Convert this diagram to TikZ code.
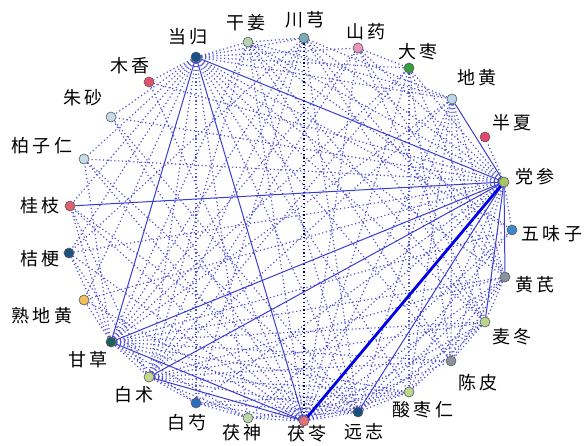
\documentclass[tikz,border=0pt]{standalone}
\usepackage{fontspec}
\newfontfamily\cjk[LetterSpace=20]{Noto Sans CJK SC}
\usetikzlibrary{backgrounds}
\definecolor{linkblue}{RGB}{60,60,210}
\definecolor{dotblue}{RGB}{80,80,215}
\definecolor{cdg}{RGB}{20,80,140}
\definecolor{cgj}{RGB}{185,210,175}
\definecolor{ccx}{RGB}{125,170,185}
\definecolor{csy}{RGB}{235,150,190}
\definecolor{cdz}{RGB}{50,160,60}
\definecolor{cdh}{RGB}{185,215,232}
\definecolor{cbx}{RGB}{230,70,110}
\definecolor{cds}{RGB}{165,200,100}
\definecolor{cwwz}{RGB}{60,135,200}
\definecolor{chq}{RGB}{135,145,160}
\definecolor{cmd}{RGB}{185,215,140}
\definecolor{ccp}{RGB}{140,148,160}
\definecolor{cszr}{RGB}{185,215,145}
\definecolor{cyz}{RGB}{25,80,125}
\definecolor{cfl}{RGB}{230,110,120}
\definecolor{cfs}{RGB}{185,215,170}
\definecolor{cbs}{RGB}{40,110,190}
\definecolor{cbz}{RGB}{195,215,145}
\definecolor{cgc}{RGB}{30,95,90}
\definecolor{csdh}{RGB}{240,190,95}
\definecolor{cjg}{RGB}{30,80,130}
\definecolor{cgz}{RGB}{225,95,110}
\definecolor{cbzr}{RGB}{195,220,232}
\definecolor{czs}{RGB}{195,220,232}
\definecolor{cmx}{RGB}{225,80,110}
\tikzset{
  herb/.style={circle,draw=black!65,line width=.6pt,minimum size=10pt,inner sep=0pt},
  herbname/.style={font=\cjk\fontsize{18}{18}\selectfont,inner sep=0pt},
  tie/.style={draw=linkblue,line width=1pt},
  strongtie/.style={draw=blue!90!black,line width=2.8pt},
  weak/.style={draw=dotblue,line width=1.2pt,dash pattern=on 1.2pt off 2.6pt},
  darkweak/.style={draw=blue!40!black,line width=1.2pt,dash pattern=on 1.2pt off 2.6pt},
}
\begin{document}
\begin{tikzpicture}[x=1pt,y=-1pt]
\useasboundingbox (0,0) rectangle (587,445);
% herbs round the circle
\node[herb,fill=cdg] (dg) at (196,57) {};   \node[herbname] (dgt) at (188,37) {当归};
\node[herb,fill=cgj] (gj) at (248,42) {};   \node[herbname] (gjt) at (246,23) {干姜};
\node[herb,fill=ccx] (cx) at (304,38) {};   \node[herbname] (cxt) at (305,20) {川芎};
\node[herb,fill=csy] (sy) at (358,48) {};   \node[herbname] (syt) at (366,32) {山药};
\node[herb,fill=cdz] (dz) at (409,68) {};   \node[herbname] (dzt) at (418,52) {大枣};
\node[herb,fill=cdh] (dh) at (452,99) {};   \node[herbname] (dht) at (477,78) {地黄};
\node[herb,fill=cbx] (bx) at (485,137) {};  \node[herbname] (bxt) at (512,123) {半夏};
\node[herb,fill=cds] (ds) at (504,182) {};  \node[herbname] (dst) at (535,177) {党参};
\node[herb,fill=cwwz] (wwz) at (512,230) {}; \node[herbname] (wwzt) at (552,234) {五味子};
\node[herb,fill=chq] (hq) at (505,277) {};  \node[herbname] (hqt) at (535,285) {黄芪};
\node[herb,fill=cmd] (md) at (485,322) {};  \node[herbname] (mdt) at (512,337) {麦冬};
\node[herb,fill=ccp] (cp) at (451,361) {};  \node[herbname] (cpt) at (478,383) {陈皮};
\node[herb,fill=cszr] (szr) at (409,392) {}; \node[herbname] (szrt) at (423,410) {酸枣仁};
\node[herb,fill=cyz] (yz) at (358,412) {};  \node[herbname] (yzt) at (364,432) {远志};
\node[herb,fill=cfl] (fl) at (304,421) {};  \node[herbname] (flt) at (307,434) {茯苓};
\node[herb,fill=cfs] (fs) at (248,418) {};  \node[herbname] (fst) at (242,433) {茯神};
\node[herb,fill=cbs] (bs) at (196,403) {};  \node[herbname] (bst) at (187,423) {白芍};
\node[herb,fill=cbz] (bz) at (149,377) {};  \node[herbname] (bzt) at (134,395) {白术};
\node[herb,fill=cgc] (gc) at (111,342) {};  \node[herbname] (gct) at (88,360) {甘草};
\node[herb,fill=csdh] (sdh) at (84,300) {}; \node[herbname] (sdht) at (42,316) {熟地黄};
\node[herb,fill=cjg] (jg) at (69,253) {};   \node[herbname] (jgt) at (40,259) {桔梗};
\node[herb,fill=cgz] (gz) at (70,206) {};   \node[herbname] (gzt) at (40,206) {桂枝};
\node[herb,fill=cbzr] (bzr) at (84,159) {}; \node[herbname] (bzrt) at (42,146) {柏子仁};
\node[herb,fill=czs] (zs) at (111,117) {};  \node[herbname] (zst) at (83,98) {朱砂};
\node[herb,fill=cmx] (mx) at (149,82) {};   \node[herbname] (mxt) at (130,66) {木香};
\begin{pgfonlayer}{background}
% weak links
\foreach \b in {gj,cx,sy,dz,dh,wwz,hq,md,cp,szr,yz,fs,bs,bz,sdh,jg,gz,bzr,zs,mx} \draw[weak] (dg) -- (\b);
\foreach \b in {gj,cx,sy,dz,bx,wwz,cp,szr,fs,bs,sdh,jg,bzr,zs,mx} \draw[weak] (ds) -- (\b);
\foreach \b in {gj,sy,dz,dh,wwz,hq,md,cp,szr,yz,fs,bs,sdh,jg,gz,bzr,zs,mx} \draw[weak] (fl) -- (\b);
\foreach \b in {gj,cx,sy,dz,dh,wwz,hq,md,cp,szr,yz,fs,bs,bz,sdh,jg,gz,bzr} \draw[weak] (gc) -- (\b);
\foreach \b in {gj,cx,sy,dz,dh,hq,md,cp,szr,yz,fs,bs,jg,gz} \draw[weak] (bz) -- (\b);
\foreach \b in {cx,gj,dh,wwz,hq,md,szr,fs,bs,gz,bzr,zs} \draw[weak] (yz) -- (\b);
\foreach \b in {gj,dh,bs,md,hq,jg} \draw[weak] (cx) -- (\b);
\foreach \b in {dh,wwz,md,cp} \draw[weak] (gj) -- (\b);
\foreach \b in {hq,dz,md} \draw[weak] (sy) -- (\b);
\foreach \b in {hq,cp,szr} \draw[weak] (dz) -- (\b);
\foreach \b in {md,hq,szr,cp} \draw[weak] (dh) -- (\b);
\foreach \b in {md,cp,szr} \draw[weak] (hq) -- (\b);
\draw[weak] (md) -- (szr); \draw[weak] (md) -- (cp);
\draw[weak] (szr) -- (fs); \draw[weak] (szr) -- (bs);
\draw[weak] (bs) -- (fs);
\draw[darkweak] (cx) -- (fl);
% strong links
\draw[tie] (dg) -- (ds);
\draw[tie] (dg) -- (gc);
\draw[tie] (dg) -- (fl);
\draw[tie] (gz) -- (ds);
\draw[tie] (gc) -- (ds);
\draw[tie] (gc) -- (fl);
\draw[tie] (bz) -- (ds);
\draw[tie] (bz) -- (fl);
\draw[tie] (yz) -- (ds);
\draw[tie] (dh) -- (ds);
\draw[tie] (hq) -- (ds);
\draw[tie] (md) -- (ds);
\draw[strongtie] (fl) -- (ds);
\end{pgfonlayer}
\end{tikzpicture}
\end{document}
